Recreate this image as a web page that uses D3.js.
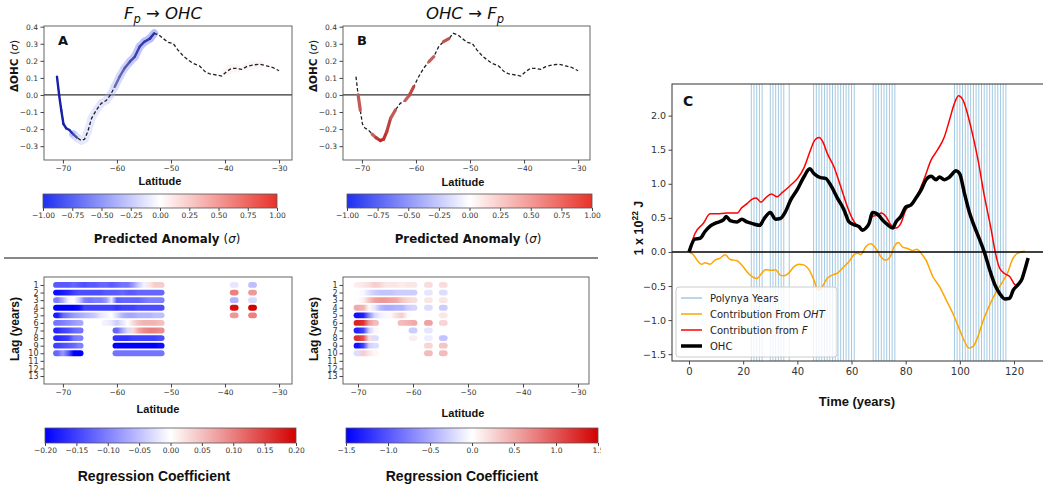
<!DOCTYPE html>
<html>
<head>
<meta charset="utf-8">
<script src="https://cdn.jsdelivr.net/npm/d3@7/dist/d3.min.js"></script>
<style>
  body { margin: 0; background: #fff; }
  svg { display: block; font-family: 'DejaVu Sans', sans-serif; }
</style>
</head>
<body>
<div id="display"></div>
<script>
// ---- latitude profile, panels A and B ----
const profileLat = [-71.1,-70.7,-70.3,-69.9,-69.4,-68.8,-68.1,-67.4,-66.6,-66.0,-65.4,-64.7,-63.8,-62.9,-62.0,-61.2,-60.4,-59.5,-58.6,-57.6,-56.7,-55.8,-54.9,-53.9,-53.1,-52.2,-51.5,-50.5,-49.6,-48.7,-47.7,-46.8,-45.9,-44.7,-43.7,-42.8,-41.6,-40.6,-39.7,-38.8,-37.9,-36.9,-36.0,-34.8,-33.5,-32.3,-31.1,-30.0];
const profileOHC = [0.107,0.0,-0.09,-0.17,-0.195,-0.205,-0.23,-0.25,-0.267,-0.26,-0.215,-0.137,-0.088,-0.049,-0.033,0.0,0.049,0.107,0.156,0.195,0.224,0.283,0.312,0.33,0.361,0.351,0.332,0.308,0.302,0.263,0.228,0.205,0.185,0.17,0.137,0.123,0.117,0.111,0.137,0.156,0.156,0.15,0.166,0.176,0.18,0.17,0.16,0.142];
// predicted anomaly (sigma) along the profile, null = not significant
const anomalyA = [-1,-1,-1,-1,-1,-0.95,-0.9,-0.5,-0.35,-0.3,-0.3,-0.3,-0.3,-0.35,-0.35,-0.35,-0.45,-0.5,-0.55,-0.7,-0.75,-0.8,-0.8,-0.85,-0.9,null,null,null,null,null,null,null,null,null,null,null,null,null,0.1,0.15,0.12,null,0.1,0.15,0.1,null,null,null];
const anomalyB = [null,0.8,0.6,null,null,null,0.5,0.8,1.0,0.95,0.9,0.8,0.6,null,0.5,0.8,0.8,null,null,0.7,0.6,null,0.8,0.7,null,null,null,null,null,null,null,null,null,null,null,null,null,null,null,null,null,null,null,null,null,null,null,null];

const latTicks = [-70,-60,-50,-40,-30];
const ohcTicks = [-0.3,-0.2,-0.1,0.0,0.1,0.2,0.3,0.4];
const anomTicks = [-1,-0.75,-0.5,-0.25,0,0.25,0.5,0.75,1];

// ---- lagged regression strips ----
const lagTicks = [1,2,3,4,5,6,7,8,9,10,11,12,13];
const stripLatA = [-71,-70,-69,-68,-67,-66,-65,-64,-63,-62,-61,-60,-59,-58,-57,-56,-55,-54,-53,-52,-38.3,-34.9];
const regA = [
  [-0.13,-0.13,-0.13,-0.12,-0.13,-0.14,-0.13,-0.13,-0.12,-0.12,-0.13,-0.12,-0.11,-0.11,-0.08,-0.04,-0.01,0.02,0.04,0.04,-0.02,-0.05],
  [-0.19,-0.18,-0.17,-0.15,-0.14,-0.14,-0.14,-0.14,-0.14,-0.13,-0.13,-0.13,-0.12,-0.13,-0.13,-0.12,-0.12,-0.12,-0.12,-0.12,0.10,0.08],
  [-0.10,-0.06,-0.01,0.00,-0.04,-0.10,-0.11,-0.10,-0.10,-0.08,-0.02,-0.13,-0.12,-0.12,-0.12,-0.12,-0.11,-0.10,-0.10,-0.10,-0.06,-0.03],
  [-0.20,-0.20,-0.20,-0.20,-0.19,-0.15,-0.15,-0.15,-0.15,-0.15,-0.15,-0.16,-0.15,-0.15,-0.15,-0.14,-0.14,-0.14,-0.14,-0.14,0.19,0.20],
  [-0.18,-0.12,-0.10,-0.08,-0.07,-0.06,-0.05,-0.04,-0.02,-0.01,0.00,-0.03,-0.06,-0.07,-0.07,-0.06,-0.06,-0.06,-0.05,-0.05,0.08,0.10],
  [-0.11,-0.10,-0.09,-0.08,-0.07,null,null,null,null,-0.01,-0.02,-0.04,-0.02,0.00,0.03,0.05,0.06,0.06,0.06,0.05,null,null],
  [-0.17,-0.15,-0.14,-0.12,-0.11,null,null,null,null,null,null,-0.12,-0.07,-0.03,0.03,0.07,0.09,0.10,0.10,0.09,null,null],
  [-0.17,-0.16,-0.15,-0.11,-0.10,null,null,null,null,null,null,-0.16,-0.16,-0.16,-0.15,-0.15,-0.15,-0.15,-0.15,-0.14,null,null],
  [-0.15,-0.14,-0.13,-0.12,-0.10,null,null,null,null,null,null,-0.20,-0.20,-0.20,-0.20,-0.20,-0.20,-0.20,-0.20,-0.19,null,null],
  [-0.12,-0.08,-0.13,-0.20,-0.20,null,null,null,null,null,null,-0.11,-0.11,-0.11,-0.11,-0.11,-0.11,-0.11,-0.11,-0.11,null,null]
];
const stripLatB = [-70,-69,-68,-67,-66,-65,-64,-63,-62,-61,-60,-57.2,-54.5];
const regB = [
  [0.10,0.15,0.20,0.30,0.25,0.15,0.15,0.15,0.10,0.15,0.15,0.20,0.20],
  [0.02,-0.05,-0.20,-0.30,-0.35,-0.35,-0.35,-0.30,-0.30,-0.30,-0.30,-0.15,-0.20],
  [0.02,0.10,0.35,0.55,0.60,0.60,0.55,0.50,0.35,0.25,0.20,0.15,0.15],
  [0.50,0.45,0.05,-0.15,-0.40,-0.50,-0.50,-0.45,-0.45,-0.30,-0.25,-0.20,-0.30],
  [-1.40,-1.30,-0.70,-0.25,-0.10,-0.05,0.05,0.20,0.30,0.05,0.00,0.02,0.15],
  [1.30,1.20,0.60,0.40,null,null,null,null,0.40,0.45,0.50,0.55,0.25],
  [-1.30,-1.10,-0.30,0.05,null,null,null,null,null,null,-0.30,-0.15,null],
  [1.20,1.00,0.20,-0.20,null,null,null,null,null,null,0.10,-0.10,-0.35],
  [-1.40,-1.10,-0.30,-0.20,null,null,null,null,null,null,null,0.25,0.35],
  [-0.20,0.30,0.15,0.05,null,null,null,null,null,null,null,0.40,0.40]
];
const regTicksA = [-0.2,-0.15,-0.1,-0.05,0,0.05,0.1,0.15,0.2];
const regTicksB = [-1.5,-1,-0.5,0,0.5,1,1.5];

// ---- panel C time series ----
const timeF = [0,2.2,5.3,7.8,10.3,14,17.7,19.5,21.4,23.2,24.8,26.6,28.2,30.4,32.5,34.4,36.2,38.1,39.9,42.4,44.9,46.1,48,49.6,51,53.5,56,58.5,60.3,62.2,64,65.9,67.7,69.6,71,72.7,74.5,76.4,78.2,80.1,82,84.4,86.9,89.4,91.8,94.3,96.2,98,99.5,101.1,104.2,106.7,109.1,111.6,112.9,114.7,116.6,118.4,120.3,121.5];
const valF = [0,0.27,0.42,0.56,0.56,0.57,0.57,0.65,0.71,0.77,0.79,0.73,0.79,0.85,0.81,0.87,0.93,1.0,1.07,1.23,1.5,1.62,1.68,1.6,1.45,1.25,0.96,0.66,0.49,0.38,0.33,0.37,0.52,0.54,0.57,0.52,0.4,0.35,0.42,0.62,0.69,0.84,1.08,1.35,1.5,1.69,1.94,2.18,2.29,2.23,1.81,1.35,0.81,0.32,0.03,-0.24,-0.32,-0.36,-0.48,-0.5];
const timeO = [0,2.2,4.1,5.9,7.8,10.3,12.7,13.7,15.2,17.7,19.5,21.4,23.9,26.1,27.6,30,31.9,33.7,35.6,37.5,39.9,42.4,44.6,46.1,48.6,50.4,52.3,54.8,57.2,59.1,60.9,62.8,64,65.3,66.5,67.7,69,70.2,71.4,73.3,75.2,76.4,78.2,80.1,82,83.8,85.7,87.5,89.4,91.2,92.5,94.3,96.2,98.6,99.9,101.7,103.6,105.4,107.3,109.1,111,112.9,114.7,116.6,118.4,119.7,121.5,123,124,125.2];
const valO = [0,0.19,0.2,0.3,0.38,0.43,0.47,0.52,0.46,0.44,0.48,0.44,0.41,0.39,0.48,0.58,0.48,0.49,0.59,0.76,0.91,1.1,1.22,1.15,1.09,1.08,0.98,0.79,0.62,0.44,0.4,0.37,0.32,0.35,0.42,0.58,0.57,0.53,0.47,0.4,0.35,0.44,0.52,0.66,0.69,0.79,0.91,1.06,1.11,1.06,1.1,1.06,1.1,1.19,1.15,0.86,0.57,0.37,0.18,-0.01,-0.26,-0.48,-0.61,-0.69,-0.68,-0.56,-0.48,-0.39,-0.26,-0.09];
const timeT = [0,1.6,2.8,4.7,5.9,7.8,9.6,11.5,13.3,15.2,17.7,19.5,21.4,23.2,25.1,26.9,28.2,30.7,31.9,33.7,35,36.8,38.7,40.5,42.4,44.3,46.1,47.7,49.2,51,52.9,54.8,56.6,59.1,60.9,62.2,63.4,65.3,67.1,69,70.8,72.7,74.3,75.8,77.3,78.9,80.7,82.6,84.2,85.7,87.5,90,92.5,94.9,97.4,99.9,101.7,103.3,104.8,106.7,108.5,111,113.5,115.9,117.8,119.3,120.9,122.7,124];
const valT = [0,-0.04,-0.11,-0.18,-0.16,-0.18,-0.12,-0.09,-0.04,-0.11,-0.13,-0.19,-0.29,-0.36,-0.39,-0.31,-0.26,-0.27,-0.26,-0.34,-0.35,-0.31,-0.22,-0.18,-0.19,-0.26,-0.41,-0.56,-0.51,-0.39,-0.34,-0.31,-0.24,-0.14,-0.04,-0.02,-0.04,0.08,0.12,0.05,-0.07,-0.12,-0.07,0.08,0.14,0.07,0.05,0.02,0.04,-0.02,-0.12,-0.36,-0.51,-0.7,-0.9,-1.14,-1.31,-1.41,-1.39,-1.24,-1.02,-0.78,-0.58,-0.43,-0.29,-0.12,-0.03,0.0,0.01];
const polynyaYears = [23,24,25,26,27,30,31,32,33,34,35,37,46,47,48,49,50,51,52,53,54,55,56,57,58,59,60,61,68,69,70,71,72,73,74,75,76,98,99,100,101,102,103,104,105,106,107,108,109,110,111,112,113,114,115,116,117];
const timeTicks = [0,20,40,60,80,100,120];
const jouleTicks = [-1.5,-1.0,-0.5,0.0,0.5,1.0,1.5,2.0];

// ---------------------------------------------------------------
let w = 1043;
let h = 488;

let viz = d3.select('#display')
  .append('svg')
    .attr('width', w)
    .attr('height', h)
    .style('background-color', 'white');

let defs = viz.append('defs');
defs.append('clipPath').attr('id', 'leftclip')
  .append('rect').attr('x', 0).attr('y', 0).attr('width', 601).attr('height', h);
let left = viz.append('g').attr('clip-path', 'url(#leftclip)');

const anomColor = d3.scaleLinear().domain([-1, 0, 1]).range(['#1f2ff0', '#ffffff', '#e8322a']).clamp(true);
const regColorA = d3.scaleLinear().domain([-0.2, 0, 0.2]).range(['#0000ff', '#ffffff', '#d40000']).clamp(true);
const regColorB = d3.scaleLinear().domain([-1.5, 0, 1.5]).range(['#0000ff', '#ffffff', '#d40000']).clamp(true);

function styleAxis(g, size) {
  g.select('.domain').remove();
  g.selectAll('.tick line').attr('stroke', '#444');
  g.selectAll('.tick text').attr('fill', '#333').style('font-size', size + 'px')
    .style('font-family', "'DejaVu Sans', sans-serif");
}

function boldText(g, x, y, txt, size, rotate) {
  let t = g.append('text')
    .attr('text-anchor', 'middle')
    .style('font-family', "'Liberation Sans', Arial, sans-serif")
    .style('font-weight', 'bold')
    .style('font-size', size + 'px')
    .attr('fill', '#111');
  if (rotate) t.attr('transform', 'translate(' + x + ',' + y + ') rotate(-90)');
  else t.attr('x', x).attr('y', y);
  t.text(txt);
  return t;
}

function colorbar(g, x0, x1, y0, hh, color, ticks, fmt, id) {
  let dom = color.domain();
  let grad = defs.append('linearGradient').attr('id', id);
  for (let k = 0; k <= 20; k++) {
    let f = k / 20;
    grad.append('stop').attr('offset', f).attr('stop-color', color(dom[0] + f * (dom[2] - dom[0])));
  }
  g.append('rect').attr('x', x0).attr('y', y0).attr('width', x1 - x0).attr('height', hh)
    .attr('fill', 'url(#' + id + ')').attr('stroke', '#555').attr('stroke-width', 0.8);
  let s = d3.scaleLinear().domain([dom[0], dom[2]]).range([x0, x1]);
  g.append('g').attr('transform', 'translate(0,' + (y0 + hh) + ')')
    .call(d3.axisBottom(s).tickValues(ticks).tickFormat(d3.format(fmt)).tickSize(3).tickPadding(2))
    .call(a => styleAxis(a, 7.5));
}

// ---- panels A and B (top) ----
function profilePanel(x0, x1, dom, anomaly, letter, withHalo) {
  let g = left.append('g');
  let x = d3.scaleLinear().domain(dom).range([x0, x1]);
  let y = d3.scaleLinear().domain([-0.381, 0.404]).range([160, 26]);
  let line = d3.line().x(d => x(d[0])).y(d => y(d[1]));
  let pts = profileLat.map((d, i) => [d, profileOHC[i]]);

  g.append('line').attr('x1', x0).attr('x2', x1).attr('y1', y(0)).attr('y2', y(0))
    .attr('stroke', '#333').attr('stroke-width', 1.2);

  let halo = g.append('g').attr('opacity', 0.35);
  let solidSegs = [];
  for (let i = 0; i < pts.length - 1; i++) {
    let a = anomaly[i], b = anomaly[i + 1];
    if (a === null || b === null) continue;
    let v = (a + b) / 2;
    let seg = [pts[i], pts[i + 1]];
    if (withHalo && Math.abs(v) < 0.9) {
      halo.append('path').attr('d', line(seg)).attr('fill', 'none')
        .attr('stroke', anomColor(v)).attr('stroke-width', 8).attr('stroke-linecap', 'round');
    }
    if (Math.abs(v) >= 0.45) solidSegs.push([seg, v]);
  }
  g.append('path').attr('d', line(pts)).attr('fill', 'none')
    .attr('stroke', '#222').attr('stroke-width', 1.3).attr('stroke-dasharray', '3.5,2.2');
  let solid = g.append('g');
  solidSegs.forEach(([seg, v]) => {
    solid.append('path').attr('d', line(seg)).attr('fill', 'none')
      .attr('stroke', d3.color(anomColor(v)).darker(v < 0 ? 1.0 : 0.6))
      .attr('stroke-width', v < 0 ? 2.4 : 3.2).attr('stroke-linecap', 'round');
  });

  g.append('rect').attr('x', x0).attr('y', 26).attr('width', x1 - x0).attr('height', 134)
    .attr('fill', 'none').attr('stroke', '#555').attr('stroke-width', 0.9);
  g.append('g').attr('transform', 'translate(0,160)')
    .call(d3.axisBottom(x).tickValues(latTicks).tickSize(3.5).tickPadding(2.5))
    .call(a => styleAxis(a, 7.5));
  g.append('g').attr('transform', 'translate(' + x0 + ',0)')
    .call(d3.axisLeft(y).tickValues(ohcTicks).tickFormat(d3.format('.1f')).tickSize(3.5).tickPadding(2.5))
    .call(a => styleAxis(a, 7.5));

  g.append('text').attr('x', x0 + 14).attr('y', 45).text(letter)
    .style('font-weight', 'bold').style('font-size', '13px').attr('fill', '#111');

  let yl = g.append('text').attr('text-anchor', 'middle')
    .attr('transform', 'translate(' + (x0 - 26) + ',66) rotate(-90)')
    .style('font-size', '10.5px').attr('fill', '#111');
  yl.append('tspan').text('ΔOHC ').style('font-weight', 'bold');
  yl.append('tspan').text('(');
  yl.append('tspan').text('σ').style('font-style', 'italic');
  yl.append('tspan').text(')');
  return x;
}

profilePanel(44, 292, [-73.5, -27.6], anomalyA, 'A', true);
profilePanel(343, 590, [-73.5, -27.8], anomalyB, 'B', false);

// titles
let tA = left.append('text').attr('x', 163).attr('y', 19).attr('text-anchor', 'middle')
  .style('font-style', 'italic').style('font-size', '16.5px').attr('fill', '#111');
tA.append('tspan').text('F');
tA.append('tspan').text('p').attr('dy', 4).style('font-size', '11.5px');
tA.append('tspan').text(' → OHC').attr('dy', -4);
let tB = left.append('text').attr('x', 465).attr('y', 19).attr('text-anchor', 'middle')
  .style('font-style', 'italic').style('font-size', '16.5px').attr('fill', '#111');
tB.append('tspan').text('OHC → F');
tB.append('tspan').text('p').attr('dy', 4).style('font-size', '11.5px');

boldText(left, 160, 185, 'Latitude', 11);
boldText(left, 463, 186, 'Latitude', 11);

colorbar(left, 43, 277, 194, 14, anomColor, anomTicks, '.2f', 'cbA');
colorbar(left, 347, 592, 194, 14, anomColor, anomTicks, '.2f', 'cbB');
[[167, 243], [468, 243]].forEach(([cx, cy]) => {
  let t = left.append('text').attr('x', cx).attr('y', cy).attr('text-anchor', 'middle')
    .style('font-size', '11.8px').attr('fill', '#111');
  t.append('tspan').text('Predicted Anomaly ').style('font-weight', 'bold');
  t.append('tspan').text('(');
  t.append('tspan').text('σ').style('font-style', 'italic');
  t.append('tspan').text(')');
});

left.append('line').attr('x1', 4).attr('x2', 598).attr('y1', 258).attr('y2', 258)
  .attr('stroke', '#111').attr('stroke-width', 1);

// ---- lower regression panels ----
function heatPanel(x0, x1, dom, lats, rows, color, id) {
  let g = left.append('g');
  let x = d3.scaleLinear().domain(dom).range([x0, x1]);
  let y = d3.scaleLinear().domain([-0.05, 14.05]).range([277, 384]);
  rows.forEach((row, r) => {
    let runs = [], cur = [];
    row.forEach((v, j) => {
      if (v === null) { if (cur.length) runs.push(cur); cur = []; return; }
      if (cur.length && lats[j] - lats[cur[cur.length - 1]] > 1.5) { runs.push(cur); cur = []; }
      cur.push(j);
    });
    if (cur.length) runs.push(cur);
    runs.forEach((run, k) => {
      let xa = x(lats[run[0]]) - 1.5;
      let xb = x(lats[run[run.length - 1]]) + 1.5;
      let gid = id + '-' + r + '-' + k;
      let grad = defs.append('linearGradient').attr('id', gid).attr('gradientUnits', 'userSpaceOnUse')
        .attr('x1', xa).attr('x2', xb).attr('y1', 0).attr('y2', 0);
      run.forEach(j => grad.append('stop')
        .attr('offset', (x(lats[j]) - xa) / (xb - xa)).attr('stop-color', color(row[j])));
      g.append('line').attr('x1', xa).attr('x2', xb).attr('y1', y(r + 1)).attr('y2', y(r + 1))
        .attr('stroke', 'url(#' + gid + ')').attr('stroke-width', 5.8).attr('stroke-linecap', 'round');
    });
  });
  g.append('rect').attr('x', x0).attr('y', 277).attr('width', x1 - x0).attr('height', 107)
    .attr('fill', 'none').attr('stroke', '#555').attr('stroke-width', 0.9);
  g.append('g').attr('transform', 'translate(0,384)')
    .call(d3.axisBottom(x).tickValues(latTicks).tickSize(3.5).tickPadding(2.5))
    .call(a => styleAxis(a, 7.5));
  g.append('g').attr('transform', 'translate(' + x0 + ',0)')
    .call(d3.axisLeft(y).tickValues(lagTicks).tickSize(3.5).tickPadding(2))
    .call(a => styleAxis(a, 8));
  boldText(g, x0 - 25, 329, 'Lag  (years)', 12, true);
}

heatPanel(44, 292, [-73.5, -27.6], stripLatA, regA, regColorA, 'hA');
heatPanel(343, 589, [-72.73, -28], stripLatB, regB, regColorB, 'hB');
boldText(left, 158, 413, 'Latitude', 11);
boldText(left, 463, 417, 'Latitude', 11);

colorbar(left, 45, 296, 428, 15, regColorA, regTicksA, '.2f', 'cbRA');
colorbar(left, 346, 598, 428, 15, regColorB, regTicksB, '.1f', 'cbRB');
boldText(left, 154, 481, 'Regression Coefficient', 14);
boldText(left, 462, 481, 'Regression Coefficient', 14);

// ---- panel C ----
let gc = viz.append('g');
let xC = d3.scaleLinear().domain([-6.28, 130.7]).range([672, 1043]);
let yC = d3.scaleLinear().domain([-1.6, 2.464]).range([361, 84]);
let lineC = d3.line().x(d => xC(d[0])).y(d => yC(d[1])).curve(d3.curveMonotoneX);

gc.selectAll('.polynya').data(polynyaYears).join('line')
  .attr('class', 'polynya')
  .attr('x1', d => xC(d)).attr('x2', d => xC(d))
  .attr('y1', 84).attr('y2', 361)
  .attr('stroke', '#a3c9e2').attr('stroke-width', 1);

const series = [
  { t: timeT, v: valT, color: '#ffa500', width: 1.5 },
  { t: timeF, v: valF, color: '#ff0000', width: 1.5 },
  { t: timeO, v: valO, color: '#000000', width: 3.5 }
];
series.forEach(s => {
  gc.append('path').attr('d', lineC(s.t.map((d, i) => [d, s.v[i]])))
    .attr('fill', 'none').attr('stroke', s.color).attr('stroke-width', s.width)
    .attr('stroke-linejoin', 'round');
});

gc.append('line').attr('x1', 672).attr('x2', 1043).attr('y1', yC(0)).attr('y2', yC(0))
  .attr('stroke', '#000').attr('stroke-width', 1.5);

gc.append('rect').attr('x', 672).attr('y', 84).attr('width', 372).attr('height', 277)
  .attr('fill', 'none').attr('stroke', '#333').attr('stroke-width', 1);

gc.append('g').attr('transform', 'translate(0,361)')
  .call(d3.axisBottom(xC).tickValues(timeTicks).tickSize(3.5).tickPadding(3.5))
  .call(a => styleAxis(a, 10));
gc.append('g').attr('transform', 'translate(672,0)')
  .call(d3.axisLeft(yC).tickValues(jouleTicks).tickFormat(d3.format('.1f')).tickSize(3.5).tickPadding(2.5))
  .call(a => styleAxis(a, 9.5));

gc.append('text').attr('x', 683).attr('y', 106).text('C')
  .style('font-weight', 'bold').style('font-size', '14px').attr('fill', '#111');

boldText(gc, 857, 406, 'Time (years)', 13);
let yLab = gc.append('text').attr('text-anchor', 'middle')
  .attr('transform', 'translate(643,228) rotate(-90)')
  .style('font-family', "'Liberation Sans', Arial, sans-serif")
  .style('font-weight', 'bold').style('font-size', '12.5px').attr('fill', '#111');
yLab.append('tspan').text('1 x 10');
yLab.append('tspan').text('22').attr('dy', -5).style('font-size', '8.5px');
yLab.append('tspan').text(' J').attr('dy', 5);

// legend
let lg = gc.append('g');
lg.append('rect').attr('x', 676).attr('y', 287).attr('width', 161).attr('height', 70).attr('rx', 3)
  .attr('fill', '#fff').attr('fill-opacity', 0.8).attr('stroke', '#ccc').attr('stroke-width', 1);
const legendItems = [
  { parts: [['Polynya Years', false]], color: '#a3c9e2', width: 1.5 },
  { parts: [['Contribution From ', false], ['OHT', true]], color: '#ffa500', width: 1.5 },
  { parts: [['Contribution from ', false], ['F', true]], color: '#ff0000', width: 1.5 },
  { parts: [['OHC', false]], color: '#000000', width: 3.5 }
];
legendItems.forEach((it, i) => {
  let yy = 298 + i * 16;
  lg.append('line').attr('x1', 681).attr('x2', 702).attr('y1', yy).attr('y2', yy)
    .attr('stroke', it.color).attr('stroke-width', it.width);
  let t = lg.append('text').attr('x', 710).attr('y', yy + 3.6)
    .style('font-size', '10px').attr('fill', '#222');
  it.parts.forEach(p => t.append('tspan').text(p[0]).style('font-style', p[1] ? 'italic' : 'normal'));
});
</script>
</body>
</html>
